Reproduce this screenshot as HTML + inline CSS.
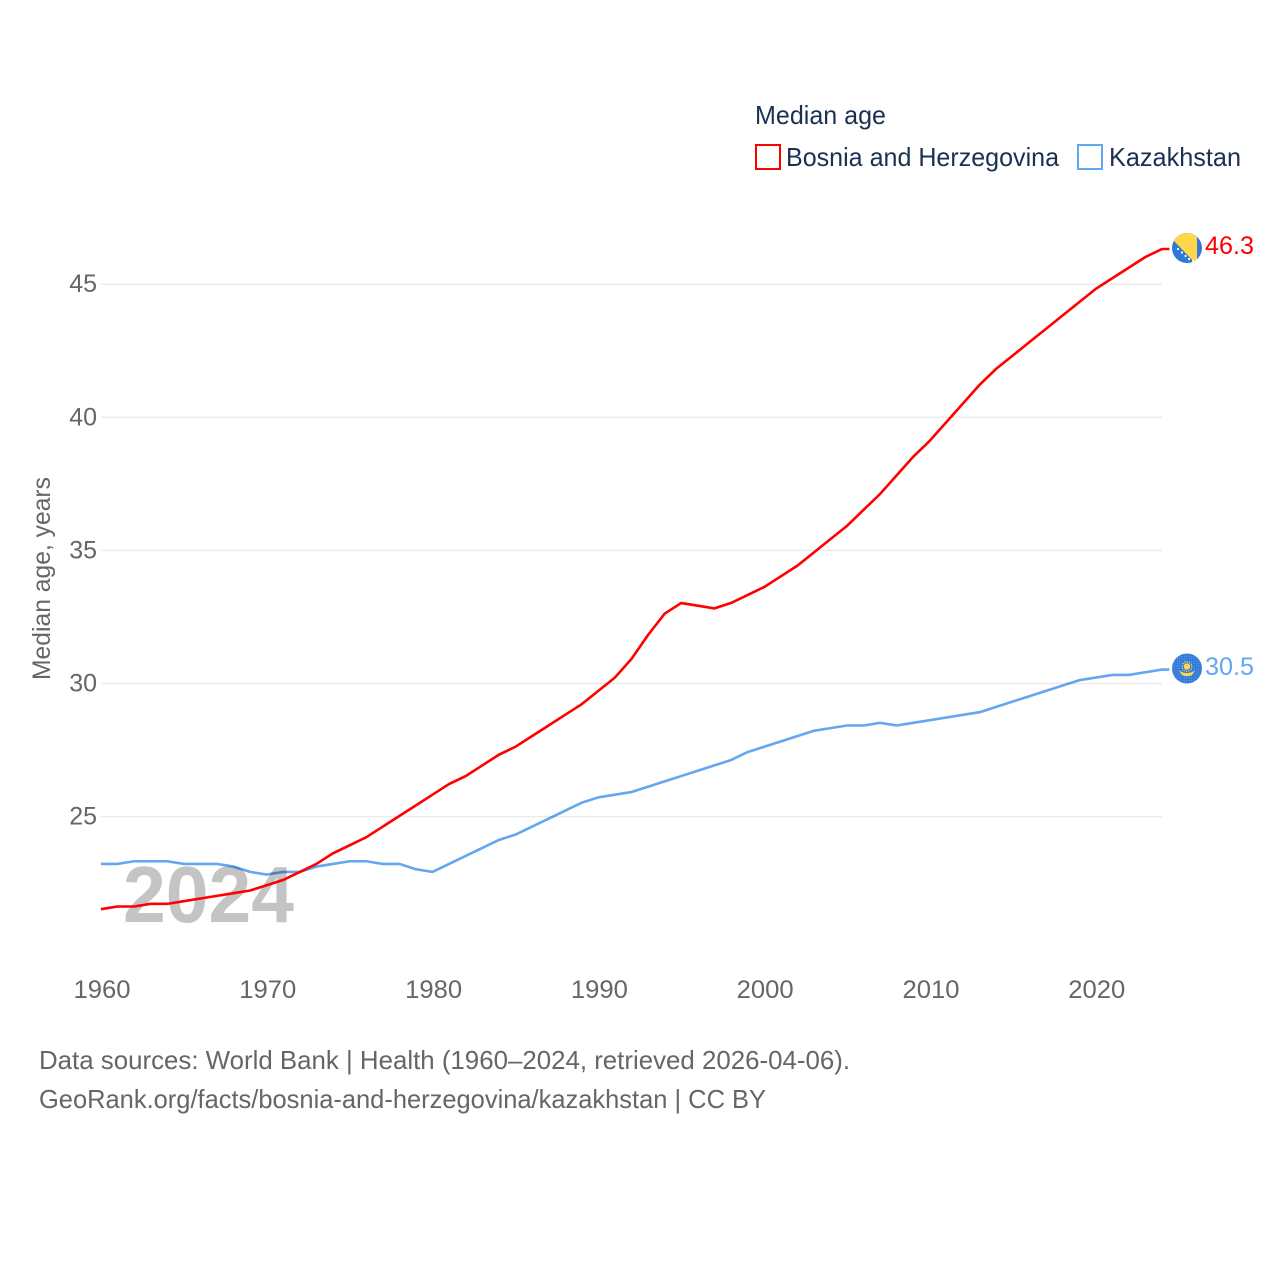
<!DOCTYPE html>
<html lang="en">
<head>
<meta charset="utf-8">
<title>Median age</title>
<style>
html,body{margin:0;padding:0;background:#fff;width:1280px;height:1280px;overflow:hidden}
svg{display:block}
text{font-family:"Liberation Sans",sans-serif}
</style>
</head>
<body>
<svg id="chart" xmlns="http://www.w3.org/2000/svg" width="1280" height="1280" viewBox="0 0 1280 1280">
  <defs>
    <pattern id="dots" width="2.4" height="2.4" patternUnits="userSpaceOnUse">
      <circle cx="1.2" cy="1.2" r="0.45" fill="#8fbdf2"/>
    </pattern>
  </defs>
  <rect width="1280" height="1280" fill="#fff"/>
  <g id="grid"></g>
  <text x="123" y="922" font-size="80" font-weight="700" fill="#c4c4c4" textLength="171" lengthAdjust="spacingAndGlyphs">2024</text>
  <g id="series" transform="translate(-0.6,-0.6)"></g>
  <g id="yticks"></g>
  <g id="xticks"></g>
  <text transform="translate(50,680) rotate(-90)" font-size="25" fill="#666" textLength="203" lengthAdjust="spacingAndGlyphs">Median age, years</text>

  <text x="755" y="124" font-size="26" fill="#1a3152" textLength="131" lengthAdjust="spacingAndGlyphs">Median age</text>
  <rect x="756" y="145" width="24" height="24" fill="#fff" stroke="#ff0000" stroke-width="2"/>
  <text x="786" y="166" font-size="26" fill="#1a3152" textLength="273" lengthAdjust="spacingAndGlyphs">Bosnia and Herzegovina</text>
  <rect x="1078" y="145" width="24" height="24" fill="#fff" stroke="#62a7f0" stroke-width="2"/>
  <text x="1109" y="166" font-size="26" fill="#1a3152" textLength="132" lengthAdjust="spacingAndGlyphs">Kazakhstan</text>

  <g>
    <clipPath id="ba"><circle cx="1187" cy="248" r="15"/></clipPath>
    <g clip-path="url(#ba)">
      <rect x="1172" y="233" width="30" height="30" fill="#2f78d8"/>
      <polygon points="1172,239 1180,231 1197,231 1197,265" fill="#ffd54a"/>
      <circle cx="1178" cy="249" r="1.1" fill="#fff"/><circle cx="1182" cy="252.5" r="1.1" fill="#fff"/><circle cx="1185.5" cy="256" r="1.1" fill="#fff"/><circle cx="1189" cy="259" r="1.1" fill="#fff"/><circle cx="1193" cy="261" r="1.1" fill="#fff"/>
    </g>
  </g>
  <text id="label-ba" x="1205" y="254" font-size="25" fill="#ff0000" textLength="49" lengthAdjust="spacingAndGlyphs"></text>

  <g>
    <circle cx="1187" cy="668.5" r="15" fill="#2f78d8"/>
    <circle cx="1187" cy="668.5" r="15" fill="url(#dots)"/>
    <circle cx="1187" cy="666.5" r="3.2" fill="#ffd54a"/>
    <circle cx="1187" cy="666.5" r="4.8" fill="none" stroke="#ffd54a" stroke-width="1.2" stroke-dasharray="1.2 1.3"/>
    <path d="M1179 670.5 Q1183 673 1187 673 Q1191 673 1195 670.5 L1192 675 Q1187 677.5 1182 675 Z" fill="#ffd54a"/>
  </g>
  <text id="label-kz" x="1205" y="675" font-size="25" fill="#62a7f0" textLength="49" lengthAdjust="spacingAndGlyphs"></text>

  <text x="39" y="1069" font-size="26" fill="#666" textLength="811" lengthAdjust="spacingAndGlyphs">Data sources: World Bank | Health (1960–2024, retrieved 2026-04-06).</text>
  <text x="39" y="1108" font-size="26" fill="#666" textLength="727" lengthAdjust="spacingAndGlyphs">GeoRank.org/facts/bosnia-and-herzegovina/kazakhstan | CC BY</text>
</svg>
<script>
const firstYear = 1960;
const bosnia = [21.5,21.6,21.6,21.7,21.7,21.8,21.9,22.0,22.1,22.2,22.4,22.6,22.9,23.2,23.6,23.9,24.2,24.6,25.0,25.4,25.8,26.2,26.5,26.9,27.3,27.6,28.0,28.4,28.8,29.2,29.7,30.2,30.9,31.8,32.6,33.0,32.9,32.8,33.0,33.3,33.6,34.0,34.4,34.9,35.4,35.9,36.5,37.1,37.8,38.5,39.1,39.8,40.5,41.2,41.8,42.3,42.8,43.3,43.8,44.3,44.8,45.2,45.6,46.0,46.3];
const kazakhstan = [23.2,23.2,23.3,23.3,23.3,23.2,23.2,23.2,23.1,22.9,22.8,22.9,22.9,23.1,23.2,23.3,23.3,23.2,23.2,23.0,22.9,23.2,23.5,23.8,24.1,24.3,24.6,24.9,25.2,25.5,25.7,25.8,25.9,26.1,26.3,26.5,26.7,26.9,27.1,27.4,27.6,27.8,28.0,28.2,28.3,28.4,28.4,28.5,28.4,28.5,28.6,28.7,28.8,28.9,29.1,29.3,29.5,29.7,29.9,30.1,30.2,30.3,30.3,30.4,30.5];
const yTicks = [25,30,35,40,45];
const xTicks = [1960,1970,1980,1990,2000,2010,2020];

const NS = 'http://www.w3.org/2000/svg';
const xScale = function (year) { return 101.5 + (year - 1960) * 16.58; };
const yScale = function (v) { return 683.5 - (v - 30) * 26.62; };

function make(tag, parent) {
  const el = document.createElementNS(NS, tag);
  parent.appendChild(el);
  return el;
}

const grid = document.getElementById('grid');
const yGroup = document.getElementById('yticks');
yTicks.forEach(function (t) {
  const line = make('line', grid);
  
  
  line.setAttribute('x1', 101);
  line.setAttribute('x2', 1162);
  line.setAttribute('y1', yScale(t));
  line.setAttribute('y2', yScale(t));
  line.setAttribute('stroke', '#ebebeb');
  line.setAttribute('stroke-width', '1.5');
  const label = make('text', yGroup);
  
  
  label.setAttribute('x', 97);
  label.setAttribute('y', yScale(t) + 8);
  label.setAttribute('text-anchor', 'end');
  label.setAttribute('font-size', '25');
  label.setAttribute('fill', '#666');
  label.textContent = t;
});

const xGroup = document.getElementById('xticks');
xTicks.forEach(function (t) {
  const label = make('text', xGroup);
  
  
  label.setAttribute('x', xScale(t) + 0.5);
  label.setAttribute('y', 998);
  label.setAttribute('text-anchor', 'middle');
  label.setAttribute('font-size', '25');
  label.setAttribute('fill', '#666');
  label.setAttribute('textLength', '57');
  label.setAttribute('lengthAdjust', 'spacingAndGlyphs');
  label.textContent = t;
});

function linePoints(values) {
  const pts = values.map(function (v, i) {
    return xScale(firstYear + i).toFixed(2) + ',' + yScale(v).toFixed(2);
  });
  pts.push('1170,' + yScale(values[values.length - 1]).toFixed(2));
  return pts.join(' ');
}

const seriesGroup = document.getElementById('series');
const kzLine = make('polyline', seriesGroup);


kzLine.setAttribute('points', linePoints(kazakhstan));
kzLine.setAttribute('fill', 'none');
kzLine.setAttribute('stroke', '#62a7f0');
kzLine.setAttribute('stroke-width', '2.6');
kzLine.setAttribute('style', 'mix-blend-mode:multiply');

const baLine = make('polyline', seriesGroup);


baLine.setAttribute('points', linePoints(bosnia));
baLine.setAttribute('fill', 'none');
baLine.setAttribute('stroke', '#ff0000');
baLine.setAttribute('stroke-width', '2.6');

document.getElementById('label-ba').textContent = bosnia[bosnia.length - 1].toFixed(1);
document.getElementById('label-kz').textContent = kazakhstan[kazakhstan.length - 1].toFixed(1);
</script>
</body>
</html>
